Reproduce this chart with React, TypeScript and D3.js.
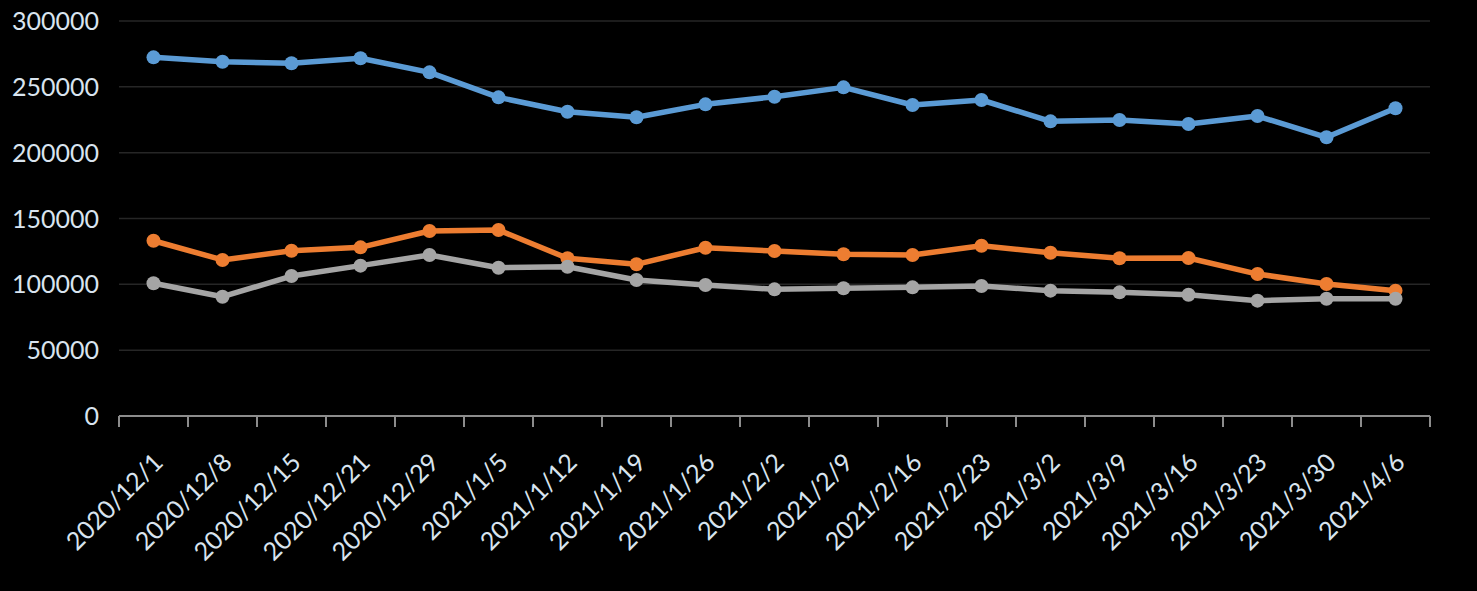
import React, { useRef, useEffect } from 'react';
import * as d3 from 'd3';

const categories = [
  '2020/12/1', '2020/12/8', '2020/12/15', '2020/12/21', '2020/12/29', '2021/1/5',
  '2021/1/12', '2021/1/19', '2021/1/26', '2021/2/2', '2021/2/9', '2021/2/16',
  '2021/2/23', '2021/3/2', '2021/3/9', '2021/3/16', '2021/3/23', '2021/3/30', '2021/4/6',
];

const blueValues = [
  272400, 269100, 267900, 271700, 261000, 242000, 231100, 226900, 236700, 242500,
  249600, 236200, 240000, 223800, 224800, 221800, 227800, 211700, 233700,
];

const orangeValues = [
  133100, 118500, 125500, 128100, 140500, 141300, 119800, 115200, 127800, 125300,
  122800, 122300, 129300, 124000, 119800, 120000, 107800, 100300, 95200,
];

const grayValues = [
  100800, 90600, 106300, 114200, 122300, 112600, 113400, 103300, 99500, 96200,
  97000, 97700, 98700, 95200, 93900, 92100, 87600, 89100, 89100,
];

const yTicks = [0, 50000, 100000, 150000, 200000, 250000, 300000];

const W = 1477;
const H = 591;
const margin = { top: 21, right: 47, bottom: 175, left: 119 };
const textColor = '#d9e4ef';
const font = 'Lato, "Open Sans", sans-serif';

const App = () => {
  const svgRef = useRef<SVGSVGElement>(null);

  useEffect(() => {
    const svg = d3.select(svgRef.current);
    svg.selectAll('*').remove();

    const innerRight = W - margin.right;
    const innerBottom = H - margin.bottom;

    const x = d3.scaleBand().domain(categories).range([margin.left, innerRight]);
    const y = d3.scaleLinear().domain([0, 300000]).range([innerBottom, margin.top]);
    const cx = (c: string) => (x(c) as number) + x.bandwidth() / 2;

    svg.append('rect').attr('width', W).attr('height', H).attr('fill', '#000');

    // gridlines
    svg.append('g')
      .selectAll('line')
      .data(yTicks.filter(t => t > 0))
      .enter()
      .append('line')
      .attr('x1', margin.left)
      .attr('x2', innerRight)
      .attr('y1', d => y(d))
      .attr('y2', d => y(d))
      .attr('stroke', '#262626')
      .attr('stroke-width', 1.5);

    // y labels
    svg.append('g')
      .selectAll('text')
      .data(yTicks)
      .enter()
      .append('text')
      .attr('x', margin.left - 20)
      .attr('y', d => y(d))
      .attr('dy', '0.36em')
      .attr('text-anchor', 'end')
      .attr('fill', textColor)
      .attr('font-family', font)
      .attr('font-size', 25)
      .text(d => String(d));

    // x axis line + tick marks at band edges
    const gx = svg.append('g').attr('transform', `translate(0,${innerBottom})`);
    gx.append('line')
      .attr('x1', margin.left)
      .attr('x2', innerRight)
      .attr('stroke', '#8c8c8c')
      .attr('stroke-width', 2);
    gx.selectAll('.tk')
      .data(d3.range(categories.length + 1))
      .enter()
      .append('line')
      .attr('class', 'tk')
      .attr('x1', i => margin.left + i * x.step())
      .attr('x2', i => margin.left + i * x.step())
      .attr('y1', 0)
      .attr('y2', 11)
      .attr('stroke', '#8c8c8c')
      .attr('stroke-width', 2);

    svg.append('g')
      .selectAll('text')
      .data(categories)
      .enter()
      .append('text')
      .attr('transform', d => `translate(${cx(d) + 11},${innerBottom + 48}) rotate(-45)`)
      .attr('text-anchor', 'end')
      .attr('fill', textColor)
      .attr('font-family', font)
      .attr('font-size', 25)
      .text(d => d);

    const series = [
      { values: blueValues, color: '#5b9bd5' },
      { values: orangeValues, color: '#ed7d31' },
      { values: grayValues, color: '#a5a5a5' },
    ];

    const line = d3.line<number>()
      .x((_, i) => cx(categories[i]))
      .y(d => y(d));

    series.forEach(s => {
      const g = svg.append('g');
      g.append('path')
        .datum(s.values)
        .attr('d', line)
        .attr('fill', 'none')
        .attr('stroke', s.color)
        .attr('stroke-width', 5.5)
        .attr('stroke-linejoin', 'round');
      g.selectAll('circle')
        .data(s.values)
        .enter()
        .append('circle')
        .attr('cx', (_, i) => cx(categories[i]))
        .attr('cy', d => y(d))
        .attr('r', 7)
        .attr('fill', s.color);
    });
  }, []);

  return (
    <svg
      ref={svgRef}
      width={W}
      height={H}
      style={{ position: 'absolute', left: 0, top: 0, display: 'block' }}
    />
  );
};

export default App;
